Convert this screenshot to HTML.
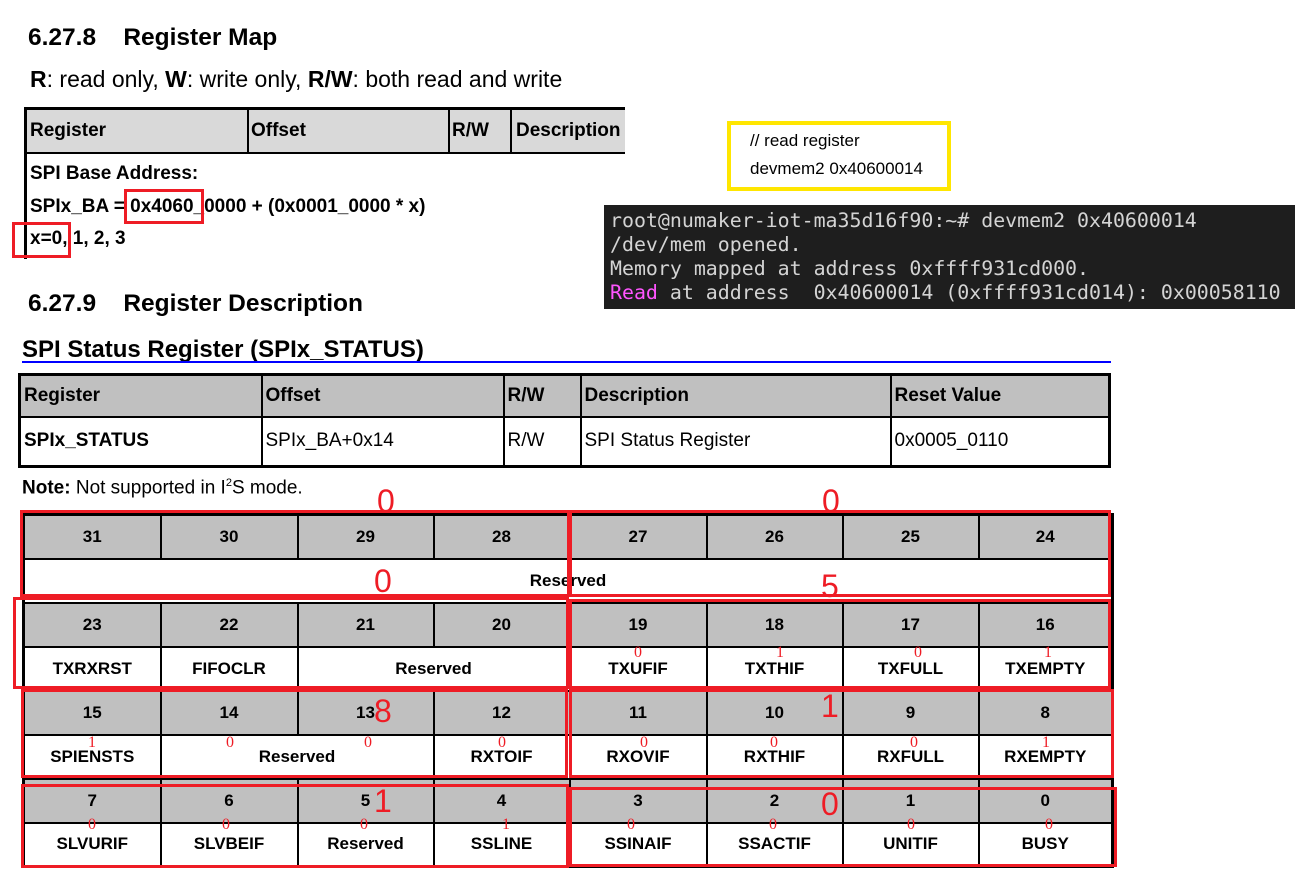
<!DOCTYPE html>
<html><head><meta charset="utf-8"><style>
body{margin:0;width:1295px;height:896px;background:#fff;position:relative;overflow:hidden;font-family:"Liberation Sans",Arial,sans-serif;color:#000}
.a{position:absolute;white-space:nowrap}
.h{font-weight:bold;font-size:24.5px}
.r{position:absolute;border:3px solid #ee1c25;box-sizing:border-box}
.big{position:absolute;color:#ee1c25;font-size:32px;line-height:32px}
.sm{position:absolute;color:#ee1c25;font-size:16px;line-height:16px;font-family:"Liberation Serif",serif;transform:translateX(-50%)}
table{border-collapse:collapse;position:absolute;table-layout:fixed}
td{border:2px solid #000;padding:0;text-align:center;font-weight:bold;font-size:17px}
.g td{background:#c0c0c0}
.t td{font-size:19px;text-align:left;padding-left:3px}
</style></head><body>
<div class="a h" style="left:28px;top:24px">6.27.8&nbsp;&nbsp;&nbsp; Register Map</div>
<div class="a" style="left:30px;top:66px;font-size:23px"><b>R</b>: read only, <b>W</b>: write only, <b>R/W</b>: both read and write</div>

<div class="a" style="left:24px;top:107px;width:601px;height:3px;background:#000"></div>
<div class="a" style="left:24px;top:110px;width:601px;height:42px;background:#d9d9d9"></div>
<div class="a" style="left:24px;top:152px;width:601px;height:2px;background:#000"></div>
<div class="a" style="left:24px;top:107px;width:3px;height:152px;background:#000"></div>
<div class="a" style="left:247px;top:110px;width:2px;height:42px;background:#000"></div>
<div class="a" style="left:448px;top:110px;width:2px;height:42px;background:#000"></div>
<div class="a" style="left:510px;top:110px;width:2px;height:42px;background:#000"></div>
<div class="a" style="left:30px;top:120px;font-weight:bold;font-size:19px">Register</div>
<div class="a" style="left:251px;top:120px;font-weight:bold;font-size:19px">Offset</div>
<div class="a" style="left:452px;top:120px;font-weight:bold;font-size:19px">R/W</div>
<div class="a" style="left:516px;top:120px;font-weight:bold;font-size:19px">Description</div>
<div class="a" style="left:30px;top:163px;font-weight:bold;font-size:19px">SPI Base Address:</div>
<div class="a" style="left:30px;top:196px;font-weight:bold;font-size:19px">SPIx_BA = 0x4060_0000 + (0x0001_0000 * x)</div>
<div class="a" style="left:30px;top:228px;font-weight:bold;font-size:19px">x=0, 1, 2, 3</div>
<div class="r" style="left:124px;top:189px;width:80px;height:35px"></div>
<div class="r" style="left:12px;top:222px;width:59px;height:36px"></div>

<div class="a" style="left:727px;top:121px;width:224px;height:70px;border:4px solid #ffe600;box-sizing:border-box"></div>
<div class="a" style="left:750px;top:131px;font-size:17px">// read register</div>
<div class="a" style="left:750px;top:159px;font-size:17px">devmem2 0x40600014</div>

<div class="a" style="left:604px;top:205px;width:691px;height:104px;background:#1e1e1e"></div>
<div class="a" style="left:610px;top:209px;font-family:'DejaVu Sans Mono','Liberation Mono',monospace;font-size:19.9px;line-height:24px;color:#d4d4d4">root@numaker-iot-ma35d16f90:~# devmem2 0x40600014<br>/dev/mem opened.<br>Memory mapped at address 0xffff931cd000.<br><span style="color:#ff55ff">Read</span> at address&nbsp; 0x40600014 (0xffff931cd014): 0x00058110</div>

<div class="a h" style="left:28px;top:290px">6.27.9&nbsp;&nbsp;&nbsp; Register Description</div>
<div class="a" style="left:22px;top:336px;font-weight:bold;font-size:24px">SPI Status Register (SPIx_STATUS)</div>
<div class="a" style="left:22px;top:361px;width:1089px;height:2px;background:#0000ff"></div>

<table class="t" style="left:18px;top:373px;width:1090px;border:3px solid #000">
<colgroup><col style="width:242px"><col style="width:242px"><col style="width:77px"><col style="width:310px"><col style="width:219px"></colgroup>
<tr class="g" style="height:42px"><td>Register</td><td>Offset</td><td>R/W</td><td>Description</td><td>Reset Value</td></tr>
<tr style="height:50px"><td>SPIx_STATUS</td><td style="font-weight:normal">SPIx_BA+0x14</td><td style="font-weight:normal">R/W</td><td style="font-weight:normal">SPI Status Register</td><td style="font-weight:normal">0x0005_0110</td></tr>
</table>
<div class="a" style="left:22px;top:477px;font-size:19px"><b>Note:</b> Not supported in I<sup style="font-size:11px">2</sup>S mode.</div>

<table style="left:22px;top:513px;width:1089px;border:3px solid #000">
<colgroup><col style="width:137px"><col style="width:137px"><col style="width:136px"><col style="width:136px"><col style="width:137px"><col style="width:136px"><col style="width:136px"><col style="width:134px"></colgroup>
<tr class="g" style="height:44px"><td>31</td><td>30</td><td>29</td><td>28</td><td>27</td><td>26</td><td>25</td><td>24</td></tr>
<tr style="height:44px"><td colspan="8">Reserved</td></tr>
<tr class="g" style="height:44px"><td>23</td><td>22</td><td>21</td><td>20</td><td>19</td><td>18</td><td>17</td><td>16</td></tr>
<tr style="height:44px"><td>TXRXRST</td><td>FIFOCLR</td><td colspan="2">Reserved</td><td>TXUFIF</td><td>TXTHIF</td><td>TXFULL</td><td>TXEMPTY</td></tr>
<tr class="g" style="height:44px"><td>15</td><td>14</td><td>13</td><td>12</td><td>11</td><td>10</td><td>9</td><td>8</td></tr>
<tr style="height:44px"><td>SPIENSTS</td><td colspan="2">Reserved</td><td>RXTOIF</td><td>RXOVIF</td><td>RXTHIF</td><td>RXFULL</td><td>RXEMPTY</td></tr>
<tr class="g" style="height:44px"><td>7</td><td>6</td><td>5</td><td>4</td><td>3</td><td>2</td><td>1</td><td>0</td></tr>
<tr style="height:44px"><td>SLVURIF</td><td>SLVBEIF</td><td>Reserved</td><td>SSLINE</td><td>SSINAIF</td><td>SSACTIF</td><td>UNITIF</td><td>BUSY</td></tr>
</table>

<div class="r" style="left:20px;top:510px;width:550px;height:87px"></div>
<div class="r" style="left:569px;top:510px;width:542px;height:87px"></div>
<div class="r" style="left:13px;top:597px;width:556px;height:92px"></div>
<div class="r" style="left:569px;top:599px;width:542px;height:90px"></div>
<div class="r" style="left:21px;top:689px;width:547px;height:89px"></div>
<div class="r" style="left:569px;top:689px;width:545px;height:89px"></div>
<div class="r" style="left:21px;top:784px;width:548px;height:84px"></div>
<div class="r" style="left:569px;top:787px;width:548px;height:80px"></div>

<div class="big" style="left:377px;top:485px">0</div>
<div class="big" style="left:822px;top:485px">0</div>
<div class="big" style="left:374px;top:565px">0</div>
<div class="big" style="left:821px;top:570px">5</div>
<div class="big" style="left:374px;top:695px">8</div>
<div class="big" style="left:821px;top:690px">1</div>
<div class="big" style="left:374px;top:785px">1</div>
<div class="big" style="left:821px;top:788px">0</div>

<div class="sm" style="left:638px;top:645px">0</div>
<div class="sm" style="left:780px;top:645px">1</div>
<div class="sm" style="left:918px;top:645px">0</div>
<div class="sm" style="left:1048px;top:645px">1</div>
<div class="sm" style="left:92px;top:735px">1</div>
<div class="sm" style="left:230px;top:735px">0</div>
<div class="sm" style="left:368px;top:735px">0</div>
<div class="sm" style="left:502px;top:735px">0</div>
<div class="sm" style="left:644px;top:735px">0</div>
<div class="sm" style="left:774px;top:735px">0</div>
<div class="sm" style="left:914px;top:735px">0</div>
<div class="sm" style="left:1046px;top:735px">1</div>
<div class="sm" style="left:92px;top:817px">0</div>
<div class="sm" style="left:226px;top:817px">0</div>
<div class="sm" style="left:364px;top:817px">0</div>
<div class="sm" style="left:506px;top:817px">1</div>
<div class="sm" style="left:631px;top:817px">0</div>
<div class="sm" style="left:773px;top:817px">0</div>
<div class="sm" style="left:911px;top:817px">0</div>
<div class="sm" style="left:1049px;top:817px">0</div>
</body></html>
